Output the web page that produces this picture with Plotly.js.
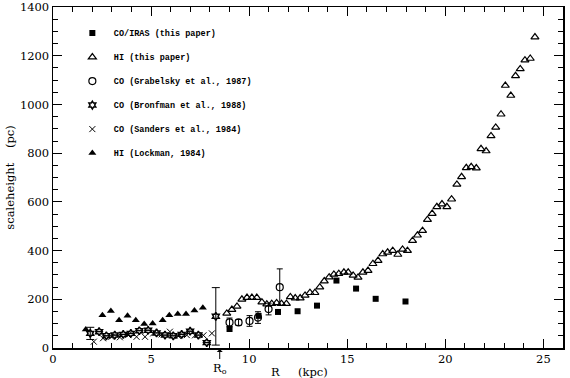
<!DOCTYPE html>
<html>
<head>
<meta charset="utf-8">
<script src="https://cdn.plot.ly/plotly-3.0.1.min.js"></script>
<style>html,body{margin:0;padding:0;background:#fff;}#chart{width:570px;height:378px;}</style>
</head>
<body>
<div id="chart"></div>
<script>
// CO/IRAS (this paper)
const coirasR = [9.0, 10.48, 11.47, 12.47, 13.46, 14.45, 15.45, 16.45, 17.97];
const coirasH = [78, 132, 148, 151, 174, 277, 244, 202, 191];

// HI (this paper)
const hiR = [8.86, 9.12, 9.38, 9.63, 9.89, 10.14, 10.39, 10.65, 10.9, 11.15, 11.4, 11.65, 11.9,
  12.1, 12.35, 12.6, 12.85, 13.1, 13.35, 13.6, 13.83, 14.08, 14.32, 14.57, 14.83, 15.05, 15.3,
  15.55, 15.8, 16.06, 16.31, 16.57, 16.81, 17.06, 17.32, 17.58, 17.82, 18.07, 18.33, 18.58,
  18.84, 19.09, 19.33, 19.57, 19.83, 20.08, 20.32, 20.59, 20.83, 21.07, 21.32, 21.58, 21.82,
  22.08, 22.33, 22.57, 22.84, 23.06, 23.34, 23.58, 23.82, 24.06, 24.33, 24.57];
const hiH = [142, 158, 171, 200, 207, 207, 207, 188, 180, 182, 185, 182, 182,
  210, 205, 205, 216, 227, 227, 250, 275, 291, 302, 305, 311, 311, 298,
  290, 311, 318, 346, 359, 386, 393, 400, 384, 405, 400, 441, 463,
  482, 527, 552, 580, 591, 580, 611, 672, 703, 740, 744, 739, 818,
  809, 871, 906, 960, 1078, 1037, 1118, 1146, 1182, 1189, 1277];

// CO (Grabelsky et al., 1987)
const grabR = [9.0, 9.46, 10.02, 10.45, 10.99, 11.56];
const grabH = [105, 105, 111, 125, 160, 250];
const grabErr = [18, 12, 22, 24, 24, 75];

// CO (Bronfman et al., 1988)
const bronR = [1.9, 2.35, 2.72, 3.15, 3.58, 3.97, 4.4, 4.85, 5.28, 5.71, 6.13, 6.56, 6.99, 7.41, 7.84, 8.3];
const bronH = [60, 67, 50, 53, 56, 60, 71, 73, 62, 53, 50, 56, 69, 53, 22, 130];
const bronErr = [25, 0, 0, 0, 0, 0, 0, 0, 0, 0, 0, 0, 0, 0, 0, 118];

// CO (Sanders et al., 1984)
const sandR = [2.08, 2.55, 2.98, 3.41, 3.83, 4.26, 4.69, 5.11, 5.54, 5.96, 6.39, 6.82, 7.24, 7.67, 8.1];
const sandH = [26, 40, 46, 44, 53, 46, 46, 60, 56, 67, 49, 53, 52, 52, 60];

// HI (Lockman, 1984)
const lockR = [1.67, 2.52, 2.95, 3.37, 3.8, 4.22, 4.65, 5.08, 5.59, 5.93, 6.36, 6.78, 7.21, 7.64];
const lockH = [76, 135, 152, 114, 132, 114, 99, 101, 114, 135, 140, 140, 154, 165];

const R0 = 8.5;

const serif = "DejaVu Serif, serif";
const mono = "Liberation Mono, monospace";
const sp = n => "\u00a0".repeat(n);

const traces = [
  {x: coirasR, y: coirasH, name: "CO/IRAS (this paper)", legendgroup: "a", mode: "markers", type: "scatter",
   marker: {symbol: "square", size: 6, color: "black"}},
  {x: hiR, y: hiH, name: "HI (this paper)", legendgroup: "b", mode: "markers", type: "scatter",
   marker: {symbol: "triangle-up-open", size: 7, color: "black", line: {width: 1.2}}},
  {x: grabR, y: grabH, name: "CO (Grabelsky et al., 1987)", legendgroup: "c", mode: "markers", type: "scatter",
   marker: {symbol: "circle-open", size: 7, color: "black", line: {width: 1.2}},
   error_y: {type: "data", array: grabErr, color: "black", thickness: 1, width: 3}},
  {x: bronR, y: bronH, name: "CO (Bronfman et al., 1988)", legendgroup: "d", mode: "markers", type: "scatter",
   marker: {symbol: "hexagram-open", size: 6, color: "black", line: {width: 1.5}},
   error_y: {type: "data", array: bronErr, color: "black", thickness: 1, width: 4}},
  {x: sandR, y: sandH, name: "CO (Sanders et al., 1984)", legendgroup: "e", mode: "markers", type: "scatter",
   marker: {symbol: "x-thin-open", size: 6, color: "black", line: {width: 1}}},
  {x: lockR, y: lockH, name: "HI (Lockman, 1984)", legendgroup: "f", mode: "markers", type: "scatter",
   marker: {symbol: "triangle-up", size: 7, color: "black"}}
];

const layout = {
  width: 570, height: 378,
  margin: {l: 53, r: 7, t: 7, b: 30},
  paper_bgcolor: "white", plot_bgcolor: "white",
  font: {family: serif, size: 11, color: "black"},
  showlegend: true,
  legend: {x: 0.035, y: 0.966, xanchor: "left", yanchor: "top", bgcolor: "rgba(0,0,0,0)",
           itemwidth: 33,
           font: {family: mono, size: 8.5, color: "black", weight: "bold"}, tracegroupgap: 5, traceorder: "grouped"},
  xaxis: {range: [0, 26], dtick: 5, tick0: 0, ticks: "inside", ticklen: 9, tickwidth: 1, tickcolor: "black",
          showline: true, linecolor: "black", linewidth: 1.5, mirror: "ticks", showgrid: false, zeroline: false,
          minor: {dtick: 1, ticks: "inside", ticklen: 5, tickcolor: "black", showgrid: false},
          tickfont: {family: serif, size: 11.5}, ticklabeloverflow: "allow"},
  yaxis: {range: [0, 1400.5], tickvals: [0, 200, 400, 600, 800, 1000, 1200, 1400],
          ticks: "inside", ticklen: 9, tickwidth: 1, tickcolor: "black",
          showline: true, linecolor: "black", linewidth: 1.5, mirror: "ticks", showgrid: false, zeroline: false,
          minor: {dtick: 50, ticks: "inside", ticklen: 5, tickcolor: "black", showgrid: false},
          tickfont: {family: serif, size: 11.5}, ticklabeloverflow: "allow",
          title: {text: "scaleheight" + sp(4) + "(pc)" + sp(6), font: {family: serif, size: 11.5}, standoff: 3}},
  annotations: [
    {x: R0, y: 0, xref: "x", yref: "y", text: "R<sub>o</sub>", showarrow: true, ax: 0, ay: 20,
     arrowhead: 1, arrowsize: 1, arrowwidth: 1, arrowcolor: "black", standoff: 1,
     font: {family: serif, size: 11.5, color: "black"}},
    {x: 12.55, y: -0.07, xref: "x", yref: "paper", xanchor: "center", yanchor: "middle",
     text: "R" + sp(5) + "(kpc)", showarrow: false, font: {family: serif, size: 11.5, color: "black"}}
  ]
};

Plotly.newPlot("chart", traces, layout, {displayModeBar: false, staticPlot: true});
</script>
</body>
</html>
